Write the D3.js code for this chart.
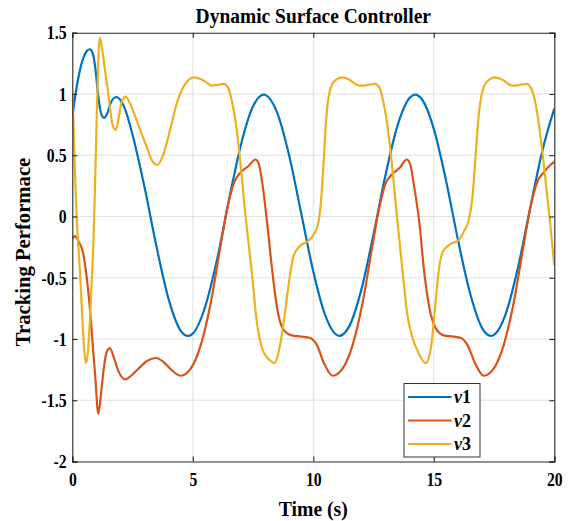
<!DOCTYPE html>
<html>
<head>
<meta charset="utf-8">
<script src="https://cdn.jsdelivr.net/npm/d3@7"></script>
<style>
  html, body { margin: 0; padding: 0; background: #fff; }
  svg { display: block; }
  text { font-family: "Liberation Serif", "Times New Roman", serif; font-weight: bold; fill: #000; }
</style>
</head>
<body>
<svg id="chart" width="571" height="521"></svg>
<script>
// Tracking signals of the dynamic surface controller (time in seconds)
const timeNu1 = [0, 0.15, 0.3, 0.45, 0.6, 0.73, 0.85, 0.95, 1.05, 1.15, 1.25, 1.33, 1.45, 1.6, 1.75, 1.84, 2.0, 2.2,
  2.5, 3.0, 3.5, 4.0, 4.5, 4.81, 5.0, 5.5, 6.0, 6.5, 7.0, 7.5, 7.94, 8.0, 8.5, 9.0, 9.5, 10.0, 10.5, 11.08,
  11.5, 12.0, 12.5, 13.0, 13.5, 14.0, 14.22, 14.5, 15.0, 15.5, 16.0, 16.5, 17.0, 17.37, 17.5, 18.0, 18.5, 19.0, 19.5, 20.0];
const nu1 = [0.81, 1.02, 1.18, 1.29, 1.35, 1.365, 1.33, 1.22, 1.03, 0.88, 0.815, 0.805, 0.84, 0.93, 0.97, 0.975, 0.95, 0.87,
  0.667, 0.236, -0.252, -0.677, -0.933, -0.975, -0.956, -0.745, -0.358, 0.135, 0.588, 0.899, 0.995, 0.993, 0.847, 0.496, 0.024, -0.45, -0.81, -0.975,
  -0.893, -0.593, -0.144, 0.342, 0.746, 0.969, 0.995, 0.959, 0.715, 0.30, -0.188, -0.623, -0.909, -0.975, -0.966, -0.786, -0.41, 0.069, 0.533, 0.88];

const timeNu2 = [0, 0.11, 0.25, 0.45, 0.6, 0.73, 0.85, 0.95, 1.08, 1.2, 1.3, 1.42, 1.56, 1.72, 1.91, 2.2, 2.5, 2.81, 3.1, 3.47, 3.8, 4.1,
  4.5, 4.92, 5.33, 5.75, 6.16, 6.43, 6.72, 6.99, 7.3, 7.6, 7.75, 7.9, 8.1, 8.3, 8.5, 8.75, 9.1, 9.5, 9.85, 10.15, 10.45,
  10.8, 11.22, 11.63, 12.05, 12.46, 12.73, 13.0, 13.3, 13.6, 13.88, 14.03, 14.18, 14.4, 14.6, 14.82, 15.05, 15.4, 15.8, 16.1, 16.4, 16.72,
  17.07, 17.49, 17.9, 18.32, 18.73, 19.0, 19.29, 19.56, 19.84, 20.0];
const nu2 = [-0.18, -0.16, -0.2, -0.3, -0.5, -0.75, -1.05, -1.3, -1.61, -1.43, -1.25, -1.11, -1.074, -1.15, -1.26, -1.33, -1.29, -1.23, -1.18, -1.155, -1.19, -1.25,
  -1.30, -1.24, -1.05, -0.70, -0.23, 0.065, 0.28, 0.36, 0.41, 0.465, 0.42, 0.25, -0.08, -0.45, -0.75, -0.92, -0.97, -0.98, -0.99, -1.05, -1.2,
  -1.30, -1.24, -1.05, -0.70, -0.23, 0.065, 0.27, 0.35, 0.40, 0.465, 0.42, 0.25, -0.05, -0.45, -0.75, -0.9, -0.97, -0.98, -0.99, -1.05, -1.2,
  -1.30, -1.24, -1.05, -0.70, -0.23, 0.065, 0.28, 0.36, 0.42, 0.446];

const timeNu3 = [0, 0.05, 0.1, 0.18, 0.25, 0.32, 0.43, 0.5, 0.57, 0.65, 0.73, 0.8, 0.87, 0.93, 1.0, 1.06, 1.14, 1.25, 1.36, 1.46, 1.56, 1.68, 1.81, 1.92, 2.05, 2.21, 2.4, 2.67, 3.09, 3.3, 3.53, 3.75, 4.05, 4.3, 4.47, 4.75, 5.05, 5.35, 5.6, 5.78, 6.0,
  6.27, 6.47, 6.62, 6.77, 6.97, 7.19, 7.44, 7.65, 7.9, 8.18, 8.39, 8.6, 8.78, 8.96, 9.17, 9.45, 9.79, 10.07, 10.22, 10.33, 10.43, 10.53, 10.64, 10.85, 11.2, 11.55, 11.75, 12.0, 12.3,
  12.55, 12.75, 12.9, 13.05, 13.25, 13.47, 13.7, 13.9, 14.1, 14.38, 14.66, 14.88, 15.05, 15.2, 15.39, 15.74, 16.02, 16.25, 16.45, 16.6, 16.72, 16.84, 16.97, 17.2, 17.54, 17.9, 18.1, 18.3, 18.6,
  18.86, 19.05, 19.2, 19.34, 19.55, 19.8, 20.0];
const nu3 = [1.0, 0.75, 0.42, 0.0, -0.24, -0.46, -0.88, -1.1, -1.197, -1.1, -0.85, -0.55, -0.25, 0.15, 0.7, 1.15, 1.46, 1.35, 1.19, 1.05, 0.89, 0.74, 0.707, 0.8, 0.94, 0.979, 0.92, 0.783, 0.565, 0.46, 0.42, 0.49, 0.70, 0.9, 1.0, 1.1, 1.136, 1.12, 1.09, 1.068, 1.073,
  1.082, 1.05, 0.94, 0.78, 0.45, 0.0, -0.44, -0.85, -1.09, -1.17, -1.197, -1.07, -0.85, -0.58, -0.33, -0.24, -0.20, -0.128, -0.04, 0.15, 0.45, 0.78, 0.98, 1.10, 1.136, 1.11, 1.08, 1.068, 1.075,
  1.082, 1.05, 0.94, 0.78, 0.45, 0.0, -0.44, -0.8, -0.98, -1.12, -1.197, -1.07, -0.75, -0.45, -0.28, -0.22, -0.196, -0.12, -0.03, 0.15, 0.45, 0.78, 0.98, 1.10, 1.136, 1.11, 1.08, 1.068, 1.075,
  1.082, 1.04, 0.94, 0.78, 0.45, 0.0, -0.40];

const xTicks = [0, 5, 10, 15, 20];
const yTicks = [-2, -1.5, -1, -0.5, 0, 0.5, 1, 1.5];
const seriesNames = ["\u03BD1", "\u03BD2", "\u03BD3"];
const seriesColors = ["#0072BD", "#D95319", "#EDB120"];

const plot = { left: 72.3, right: 554.3, top: 32.7, bottom: 461.5 };
const tickScaleX = 0.85;   // narrow serif look of the tick numbers

const svg = d3.select("#chart");

const x = d3.scaleLinear().domain([0, 20]).range([plot.left, plot.right]);
const y = d3.scaleLinear().domain([-2, 1.5]).range([plot.bottom, plot.top]);

// grid
const grid = svg.append("g").attr("stroke", "#e1e1e1").attr("stroke-width", 1);
xTicks.slice(1, -1).forEach(t => {
  grid.append("line").attr("x1", x(t)).attr("x2", x(t)).attr("y1", plot.top).attr("y2", plot.bottom);
});
yTicks.slice(1, -1).forEach(t => {
  grid.append("line").attr("x1", plot.left).attr("x2", plot.right).attr("y1", y(t)).attr("y2", y(t));
});

// series
svg.append("clipPath").attr("id", "clip").append("rect")
  .attr("x", plot.left).attr("y", plot.top)
  .attr("width", plot.right - plot.left).attr("height", plot.bottom - plot.top);

const line = d3.line().x(d => x(d[0])).y(d => y(d[1])).curve(d3.curveMonotoneX);
const series = [
  { t: timeNu1, v: nu1 },
  { t: timeNu2, v: nu2 },
  { t: timeNu3, v: nu3 }
];
const lines = svg.append("g").attr("clip-path", "url(#clip)");
series.forEach((s, i) => {
  lines.append("path")
    .datum(s.t.map((t, k) => [t, s.v[k]]))
    .attr("fill", "none")
    .attr("stroke", seriesColors[i])
    .attr("stroke-width", 2.2)
    .attr("stroke-linejoin", "round")
    .attr("d", line);
});

// axes (box with inward ticks on all sides)
const fmt = d => String(d);
const axB = d3.axisBottom(x).tickValues(xTicks).tickSize(-5).tickFormat(fmt);
const axT = d3.axisTop(x).tickValues(xTicks).tickSize(-5).tickFormat("");
const axL = d3.axisLeft(y).tickValues(yTicks).tickSize(-5).tickFormat(fmt);
const axR = d3.axisRight(y).tickValues(yTicks).tickSize(-5).tickFormat("");

function styleAxis(g) {
  g.selectAll("path").attr("stroke", "#262626").attr("stroke-width", 1.1);
  g.selectAll("line").attr("stroke", "#262626").attr("stroke-width", 1.1);
  g.selectAll("text").attr("font-family", "Liberation Serif, serif").attr("font-weight", "bold")
    .attr("font-size", 18.5).attr("fill", "#000");
}
svg.append("g").attr("transform", `translate(0,${plot.bottom})`).call(axB).call(styleAxis)
  .selectAll("text").attr("y", 25).attr("dy", 0).attr("transform", `scale(${tickScaleX},1)`);
svg.append("g").attr("transform", `translate(0,${plot.top})`).call(axT).call(styleAxis);
svg.append("g").attr("transform", `translate(${plot.left},0)`).call(axL).call(styleAxis)
  .selectAll("text").attr("x", -5.8 / tickScaleX).attr("dy", "0.34em").attr("transform", `scale(${tickScaleX},1)`);
svg.append("g").attr("transform", `translate(${plot.right},0)`).call(axR).call(styleAxis);

// title and axis labels
const cx = (plot.left + plot.right) / 2;
svg.append("text").attr("transform", `translate(${cx},23) scale(0.95,1)`)
  .attr("text-anchor", "middle").attr("font-size", 20.5).text("Dynamic Surface Controller");
svg.append("text").attr("transform", `translate(${cx},516) scale(0.96,1)`)
  .attr("text-anchor", "middle").attr("font-size", 20.5).text("Time (s)");
svg.append("text").attr("transform", `translate(30,252) rotate(-90)`)
  .attr("text-anchor", "middle").attr("font-size", 20.7).text("Tracking Performace");

// legend
const lg = svg.append("g").attr("transform", "translate(404,383.5)");
lg.append("rect").attr("width", 76).attr("height", 73.5)
  .attr("fill", "#fff").attr("stroke", "#333").attr("stroke-width", 1);
seriesNames.forEach((name, i) => {
  const yy = 13.5 + i * 23.5;
  lg.append("line").attr("x1", 4).attr("x2", 47.5).attr("y1", yy).attr("y2", yy)
    .attr("stroke", seriesColors[i]).attr("stroke-width", 2.2);
  const tx = lg.append("text").attr("x", 50).attr("y", yy + 6).attr("font-size", 18);
  tx.append("tspan").attr("font-style", "italic").text(name.charAt(0));
  tx.append("tspan").text(name.slice(1));
});
</script>
</body>
</html>
